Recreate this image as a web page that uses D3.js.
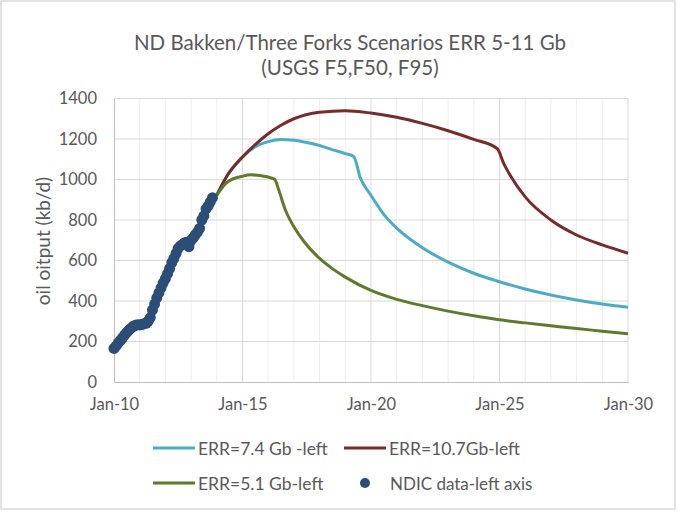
<!DOCTYPE html>
<html>
<head>
<meta charset="utf-8">
<script src="https://cdn.jsdelivr.net/npm/d3@7"></script>
<style>
  html, body { margin: 0; padding: 0; background: #fff; }
  svg { display: block; font-family: Lato, "Open Sans", sans-serif; }
</style>
</head>
<body>
<div id="chart"></div>
<script>
// NDIC monthly output, Jan 2010 .. Nov 2013 (kb/d)
const ndicStart = "2010-01";
const ndicValues = [
  166, 178, 192, 205, 218, 232, 245, 256, 266, 275, 280, 283,
  282, 284, 288, 290, 300, 318, 355, 385, 415, 440, 465, 490,
  510, 535, 560, 590, 610, 635, 660, 672, 680, 688, 690, 668,
  700, 712, 726, 740, 758, 800, 820, 855, 870, 890, 910
];

// scenario curves [month, kb/d]
const err74 = [
  ["2014-01", 923], ["2014-06", 1021], ["2015-01", 1111], ["2015-07", 1162],
  ["2016-01", 1187], ["2016-07", 1198], ["2017-01", 1194], ["2017-07", 1183],
  ["2018-01", 1168], ["2018-08", 1144], ["2019-01", 1128], ["2019-05", 1114],
  ["2019-08", 1010], ["2020-01", 922], ["2020-07", 828], ["2021-01", 760],
  ["2022-01", 663], ["2023-01", 592], ["2024-01", 537], ["2025-01", 495],
  ["2026-01", 459], ["2027-01", 430], ["2028-01", 405], ["2029-01", 385],
  ["2030-01", 369]
];
const err107 = [
  ["2014-01", 923], ["2014-06", 1021], ["2015-01", 1111], ["2015-07", 1172],
  ["2016-01", 1226], ["2016-07", 1268], ["2017-01", 1300], ["2018-01", 1332],
  ["2019-01", 1340], ["2020-01", 1328], ["2021-01", 1307], ["2022-01", 1277],
  ["2023-01", 1241], ["2024-01", 1198], ["2024-12", 1152], ["2025-03", 1080],
  ["2025-06", 1021], ["2026-01", 914], ["2027-01", 800], ["2028-01", 726],
  ["2029-01", 677], ["2030-01", 636]
];
const err51 = [
  ["2014-01", 923], ["2014-06", 988], ["2015-01", 1016], ["2015-05", 1023],
  ["2015-10", 1018], ["2016-01", 1012], ["2016-04", 1001], ["2016-06", 947],
  ["2016-09", 849], ["2017-01", 767], ["2017-06", 690], ["2018-01", 610],
  ["2018-07", 560], ["2019-01", 518], ["2020-01", 452], ["2021-01", 408],
  ["2022-01", 377], ["2023-01", 350], ["2024-01", 327], ["2025-01", 307],
  ["2026-01", 292], ["2027-01", 278], ["2028-01", 264], ["2029-01", 251],
  ["2030-01", 238]
];

const yTicks = [0, 200, 400, 600, 800, 1000, 1200, 1400];
const xTickYears = [2010, 2015, 2020, 2025, 2030];

const series = [
  { name: "ERR=7.4 Gb -left", data: err74, color: "#4bacc6" },
  { name: "ERR=10.7Gb-left", data: err107, color: "#772c2a" },
  { name: "ERR=5.1 Gb-left", data: err51, color: "#5e7a2c" }
];

const W = 677, H = 512;
const margin = { left: 114, right: 49, top: 98.5, bottom: 130 };
const width = W - margin.left - margin.right,
    height = H - margin.top - margin.bottom;
const textColor = "#595959";
const parse = d3.timeParse("%Y-%m");

const svg = d3.select("#chart")
    .append("svg")
    .attr("width", W)
    .attr("height", H);

// chart border
svg.append("rect")
    .attr("x", 1).attr("y", 1)
    .attr("width", W - 3).attr("height", H - 4)
    .attr("fill", "#fff")
    .attr("stroke", "#d9d9d9")
    .attr("stroke-width", 1.5);

// title
const title = svg.append("text")
    .attr("text-anchor", "middle")
    .attr("fill", textColor)
    .attr("font-size", 20.5);
title.append("tspan").attr("x", 350).attr("y", 49.5)
    .text("ND Bakken/Three Forks Scenarios ERR 5-11 Gb");
title.append("tspan").attr("x", 350).attr("y", 75)
    .text("(USGS F5,F50, F95)");

const g = svg.append("g")
    .attr("transform", `translate(${margin.left},${margin.top})`);

/** scales */
const x = d3.scaleTime()
    .domain([new Date(2010, 0, 1), new Date(2030, 0, 1)])
    .range([0, width]);
const y = d3.scaleLinear()
    .domain([0, 1400])
    .range([height, 0]);

/** grid */
const grid = g.append("g").attr("class", "grid");
grid.selectAll(".minor")
    .data(d3.range(2011, 2030).filter(yr => yr % 5 !== 0))
    .join("line")
    .attr("x1", d => x(new Date(d, 0, 1)))
    .attr("x2", d => x(new Date(d, 0, 1)))
    .attr("y1", 0).attr("y2", height)
    .attr("stroke", "#eeeeee");
grid.selectAll(".major")
    .data(xTickYears.slice(1))
    .join("line")
    .attr("x1", d => x(new Date(d, 0, 1)))
    .attr("x2", d => x(new Date(d, 0, 1)))
    .attr("y1", 0).attr("y2", height)
    .attr("stroke", "#d9d9d9");
grid.selectAll(".hline")
    .data(yTicks.slice(1))
    .join("line")
    .attr("x1", 0).attr("x2", width)
    .attr("y1", d => y(d)).attr("y2", d => y(d))
    .attr("stroke", "#d9d9d9");

/** axes */
const axisX = d3.axisBottom(x)
    .tickValues(xTickYears.map(yr => new Date(yr, 0, 1)))
    .tickFormat(d3.timeFormat("%b-%y"))
    .tickSize(0)
    .tickPadding(16);
const axisY = d3.axisLeft(y)
    .tickValues(yTicks)
    .tickFormat(d3.format("d"))
    .tickSize(0)
    .tickPadding(17);

const gx = g.append("g")
    .attr("transform", `translate(0,${height})`)
    .call(axisX);
const gy = g.append("g").call(axisY);
[gx, gy].forEach(a => {
    a.select(".domain").attr("stroke", "#bfbfbf");
    a.selectAll("text")
        .attr("fill", textColor)
        .attr("font-size", 16.5)
        .attr("font-family", "Lato, sans-serif");
});

// y axis title
g.append("text")
    .attr("transform", `translate(${42 - margin.left}, ${241 - margin.top}) rotate(-90)`)
    .attr("text-anchor", "middle")
    .attr("dominant-baseline", "central")
    .attr("fill", textColor)
    .attr("font-size", 19)
    .text("oil oitput (kb/d)");

/** scenario lines */
const line = d3.line()
    .x(d => x(parse(d[0])))
    .y(d => y(d[1]))
    .curve(d3.curveMonotoneX);

g.append("g")
    .selectAll("path")
    .data(series)
    .join("path")
    .attr("d", d => line(d.data))
    .attr("fill", "none")
    .attr("stroke", d => d.color)
    .attr("stroke-width", 3)
    .attr("stroke-linejoin", "round");

/** NDIC dots */
const t0 = parse(ndicStart);
const ndic = ndicValues.map((v, i) => ({ date: d3.timeMonth.offset(t0, i), value: v }));
const dotColor = "#2c4d75";
g.append("g")
    .selectAll("circle")
    .data(ndic)
    .join("circle")
    .attr("cx", d => x(d.date))
    .attr("cy", d => y(d.value))
    .attr("r", 5.5)
    .attr("fill", dotColor);

/** legend */
const legendItems = series.concat([{ name: "NDIC data-left axis", color: dotColor, dot: true }]);
const legendPos = [
    { x: 153, y: 448 },
    { x: 344, y: 448 },
    { x: 153, y: 483 },
    { x: 344, y: 483 }
];
const legend = svg.append("g").attr("class", "legend");
legendItems.forEach((item, i) => {
    const p = legendPos[i];
    const li = legend.append("g").attr("transform", `translate(${p.x},${p.y})`);
    if (item.dot) {
        li.append("circle")
            .attr("cx", 21).attr("cy", 0).attr("r", 5)
            .attr("fill", item.color);
    } else {
        li.append("line")
            .attr("x1", 0).attr("x2", 42)
            .attr("stroke", item.color)
            .attr("stroke-width", 3);
    }
    li.append("text")
        .attr("x", item.dot ? 46 : 45)
        .attr("dominant-baseline", "central")
        .attr("fill", textColor)
        .attr("font-size", item.dot ? 17 : 17.5)
        .text(item.name);
});
</script>
</body>
</html>
